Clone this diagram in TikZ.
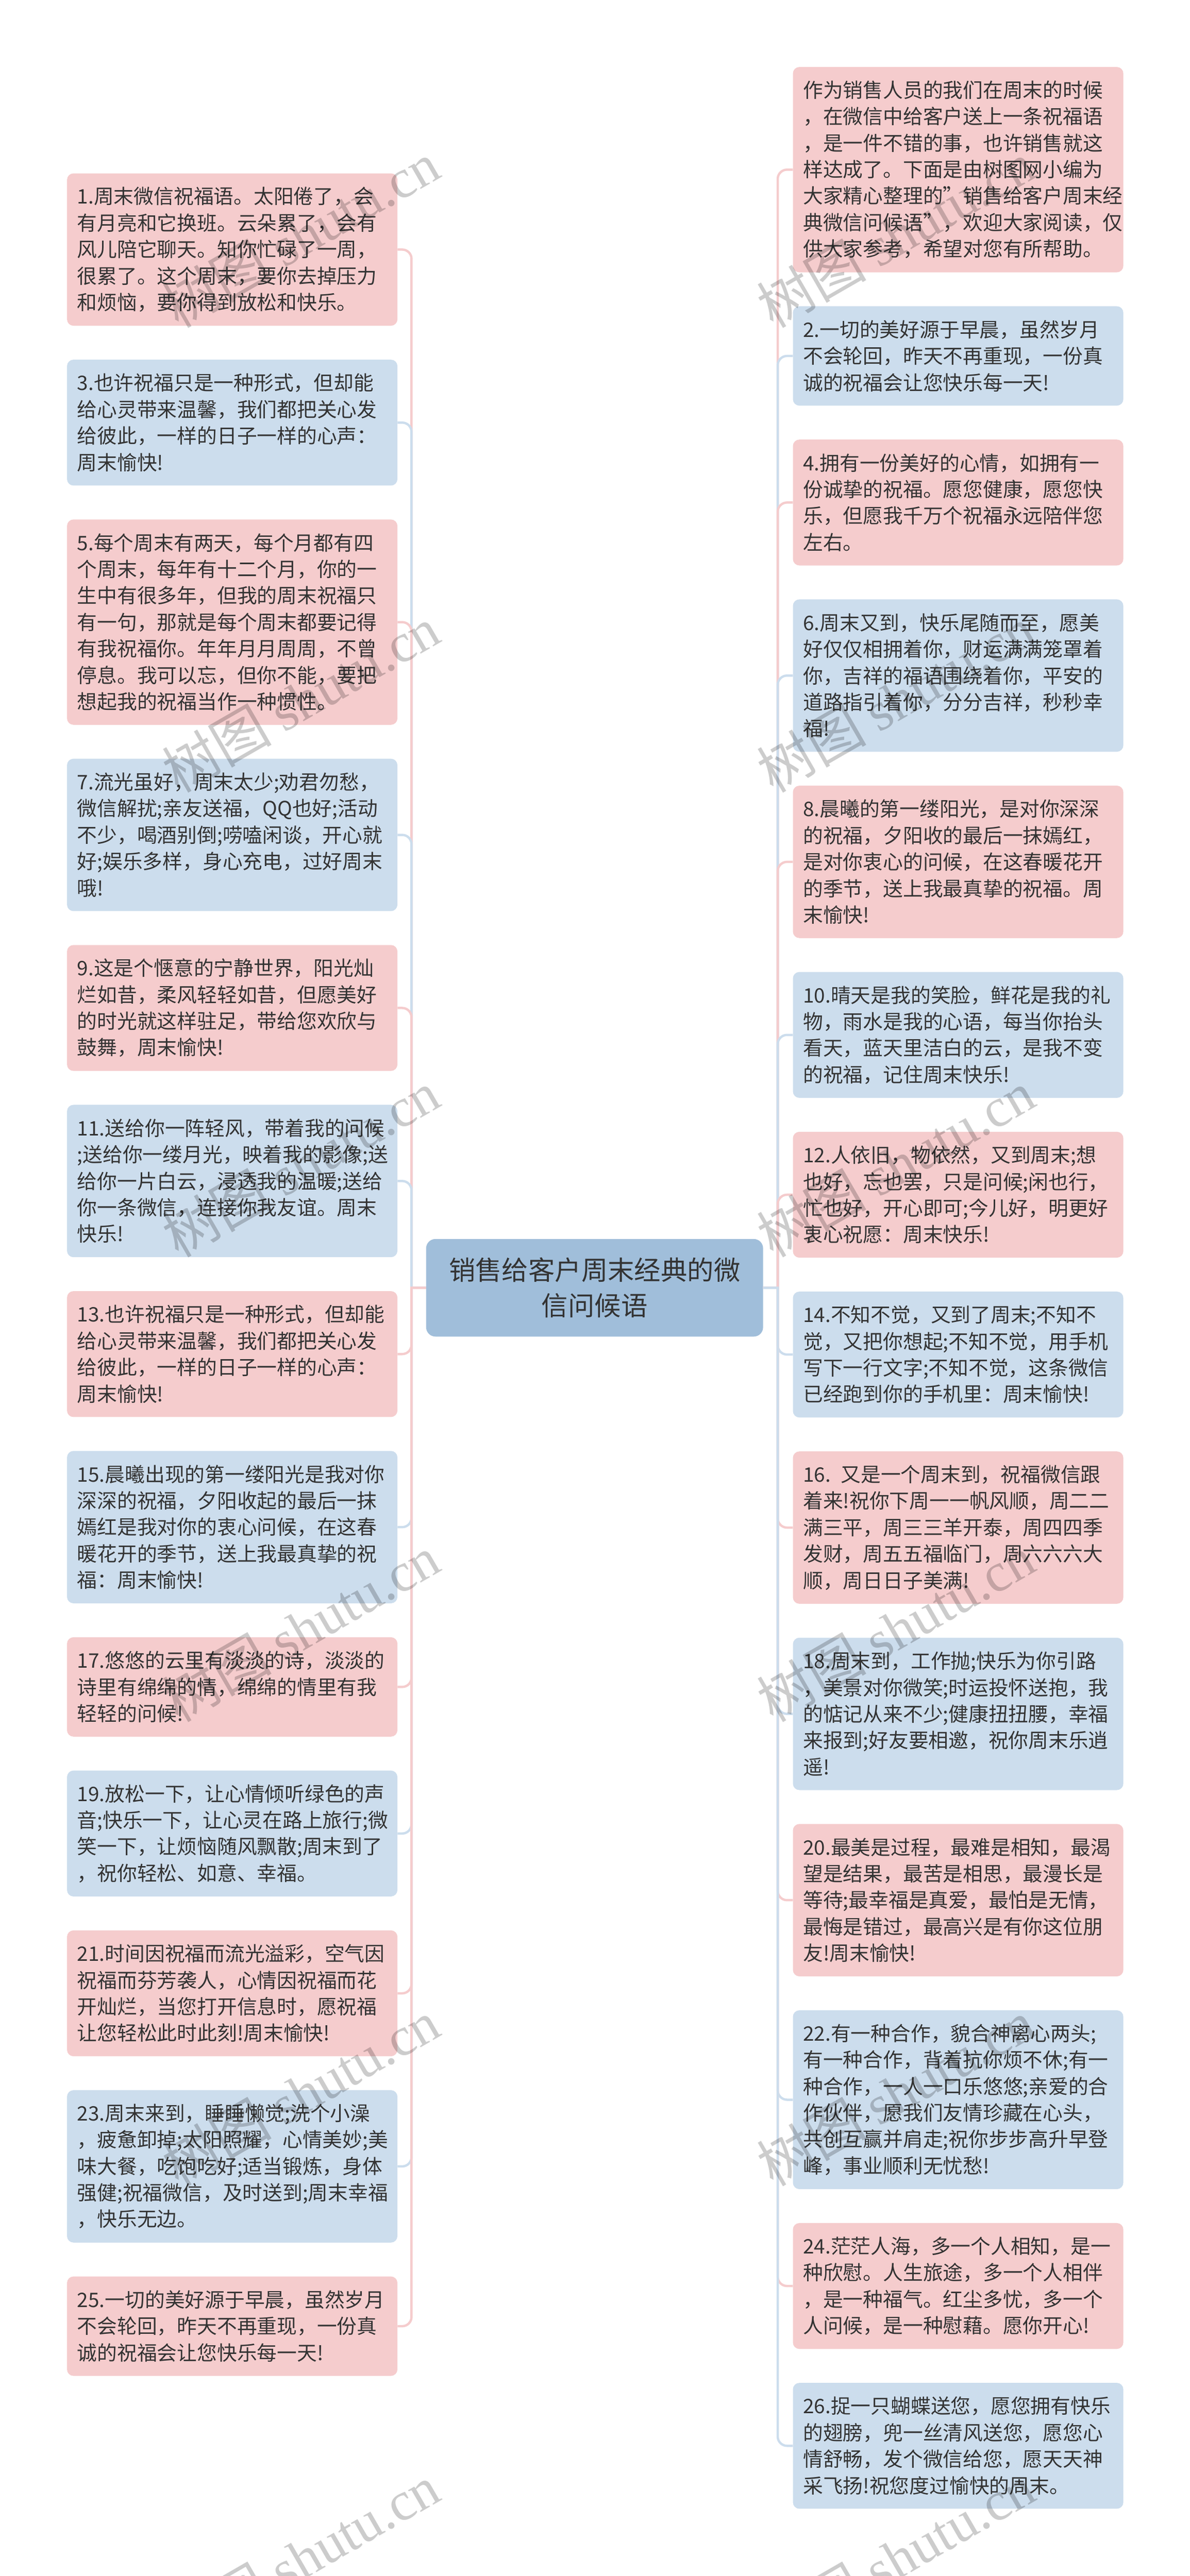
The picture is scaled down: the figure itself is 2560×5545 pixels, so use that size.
\documentclass[tikz,border=0pt]{standalone}
\usepackage{fontspec}
\setmainfont{Noto Sans CJK SC}
\newfontfamily\wmlat{Liberation Serif}
\newfontfamily\wmcjk{Noto Sans CJK SC}
\definecolor{pk}{HTML}{F5CCCD}
\definecolor{bl}{HTML}{CCDDED}
\definecolor{rt}{HTML}{A0BEDA}
\definecolor{ink}{HTML}{333333}
\usetikzlibrary{calc}
\tikzset{
  leaf/.style={anchor=north west,rounded corners=14pt,text width=667pt,inner xsep=22pt,inner ysep=0pt,align=left,text=ink,
    font=\fontsize{43pt}{57pt}\selectfont},
  lp/.style={leaf,fill=pk},
  lb/.style={leaf,fill=bl},
  n3/.style={minimum height=214pt},
  n4/.style={minimum height=271pt},
  n5/.style={minimum height=328pt},
  n6/.style={minimum height=385pt},
  n7/.style={minimum height=442pt},
  rootbox/.style={rounded corners=20pt,fill=rt,text=ink,minimum width=725pt,minimum height=210pt,text width=660pt,align=center,inner sep=0pt,
    font=\fontsize{57pt}{76pt}\selectfont},
  conn/.style={line width=5pt},
  wm/.style={rotate=30,text=black,text opacity=0.2,inner sep=0pt,font=\fontsize{118pt}{118pt}\selectfont}
}
\begin{document}
\begin{tikzpicture}[x=1pt,y=-1pt]
\fill[white] (0,0) rectangle (2560,5545);
\useasboundingbox (0,0) rectangle (2560,5545);
\node[rootbox] (root) at (1279.5,2772) {销售给客户周末经典的微\\信问候语};
\coordinate (lbus) at (885.5,2772);
\coordinate (rbus) at (1673.5,2772);
% left column
\node[lp,n5] (L1) at (144,373) {1.周末微信祝福语。太阳倦了，会\\有月亮和它换班。云朵累了，会有\\风儿陪它聊天。知你忙碌了一周，\\很累了。这个周末，要你去掉压力\\和烦恼，要你得到放松和快乐。};
\node[lb,n4] (L3) at (144,774) {3.也许祝福只是一种形式，但却能\\给心灵带来温馨，我们都把关心发\\给彼此，一样的日子一样的心声：\\周末愉快!};
\node[lp,n7] (L5) at (144,1118) {5.每个周末有两天，每个月都有四\\个周末，每年有十二个月，你的一\\生中有很多年，但我的周末祝福只\\有一句，那就是每个周末都要记得\\有我祝福你。年年月月周周，不曾\\停息。我可以忘，但你不能，要把\\想起我的祝福当作一种惯性。};
\node[lb,n5] (L7) at (144,1633) {7.流光虽好，周末太少;劝君勿愁，\\微信解扰;亲友送福，QQ也好;活动\\不少，喝酒别倒;唠嗑闲谈，开心就\\好;娱乐多样，身心充电，过好周末\\哦!};
\node[lp,n4] (L9) at (144,2034) {9.这是个惬意的宁静世界，阳光灿\\烂如昔，柔风轻轻如昔，但愿美好\\的时光就这样驻足，带给您欢欣与\\鼓舞，周末愉快!};
\node[lb,n5] (L11) at (144,2378) {11.送给你一阵轻风，带着我的问候\\;送给你一缕月光，映着我的影像;送\\给你一片白云，浸透我的温暖;送给\\你一条微信，连接你我友谊。周末\\快乐!};
\node[lp,n4] (L13) at (144,2779) {13.也许祝福只是一种形式，但却能\\给心灵带来温馨，我们都把关心发\\给彼此，一样的日子一样的心声：\\周末愉快!};
\node[lb,n5] (L15) at (144,3123) {15.晨曦出现的第一缕阳光是我对你\\深深的祝福，夕阳收起的最后一抹\\嫣红是我对你的衷心问候，在这春\\暖花开的季节，送上我最真挚的祝\\福：周末愉快!};
\node[lp,n3] (L17) at (144,3524) {17.悠悠的云里有淡淡的诗，淡淡的\\诗里有绵绵的情，绵绵的情里有我\\轻轻的问候!};
\node[lb,n4] (L19) at (144,3811) {19.放松一下，让心情倾听绿色的声\\音;快乐一下，让心灵在路上旅行;微\\笑一下，让烦恼随风飘散;周末到了\\，祝你轻松、如意、幸福。};
\node[lp,n4] (L21) at (144,4155) {21.时间因祝福而流光溢彩，空气因\\祝福而芬芳袭人，心情因祝福而花\\开灿烂，当您打开信息时，愿祝福\\让您轻松此时此刻!周末愉快!};
\node[lb,n5] (L23) at (144,4499) {23.周末来到，睡睡懒觉;洗个小澡\\，疲惫卸掉;太阳照耀，心情美妙;美\\味大餐，吃饱吃好;适当锻炼，身体\\强健;祝福微信，及时送到;周末幸福\\，快乐无边。};
\node[lp,n3] (L25) at (144,4900) {25.一切的美好源于早晨，虽然岁月\\不会轮回，昨天不再重现，一份真\\诚的祝福会让您快乐每一天!};
% right column
\node[lp,n7] (R0) at (1706,144) {作为销售人员的我们在周末的时候\\，在微信中给客户送上一条祝福语\\，是一件不错的事，也许销售就这\\样达成了。下面是由树图网小编为\\大家精心整理的"销售给客户周末经\\典微信问候语"，欢迎大家阅读，仅\\供大家参考，希望对您有所帮助。};
\node[lb,n3] (R2) at (1706,659) {2.一切的美好源于早晨，虽然岁月\\不会轮回，昨天不再重现，一份真\\诚的祝福会让您快乐每一天!};
\node[lp,n4] (R4) at (1706,946) {4.拥有一份美好的心情，如拥有一\\份诚挚的祝福。愿您健康，愿您快\\乐，但愿我千万个祝福永远陪伴您\\左右。};
\node[lb,n5] (R6) at (1706,1290) {6.周末又到，快乐尾随而至，愿美\\好仅仅相拥着你，财运满满笼罩着\\你，吉祥的福语围绕着你，平安的\\道路指引着你，分分吉祥，秒秒幸\\福!};
\node[lp,n5] (R8) at (1706,1691) {8.晨曦的第一缕阳光，是对你深深\\的祝福，夕阳收的最后一抹嫣红，\\是对你衷心的问候，在这春暖花开\\的季节，送上我最真挚的祝福。周\\末愉快!};
\node[lb,n4] (R10) at (1706,2092) {10.晴天是我的笑脸，鲜花是我的礼\\物，雨水是我的心语，每当你抬头\\看天，蓝天里洁白的云，是我不变\\的祝福，记住周末快乐!};
\node[lp,n4] (R12) at (1706,2436) {12.人依旧，物依然，又到周末;想\\也好，忘也罢，只是问候;闲也行，\\忙也好，开心即可;今儿好，明更好\\衷心祝愿：周末快乐!};
\node[lb,n4] (R14) at (1706,2780) {14.不知不觉，又到了周末;不知不\\觉，又把你想起;不知不觉，用手机\\写下一行文字;不知不觉，这条微信\\已经跑到你的手机里：周末愉快!};
\node[lp,n5] (R16) at (1706,3124) {16. 又是一个周末到，祝福微信跟\\着来!祝你下周一一帆风顺，周二二\\满三平，周三三羊开泰，周四四季\\发财，周五五福临门，周六六六大\\顺，周日日子美满!};
\node[lb,n5] (R18) at (1706,3525) {18.周末到，工作抛;快乐为你引路\\，美景对你微笑;时运投怀送抱，我\\的惦记从来不少;健康扭扭腰，幸福\\来报到;好友要相邀，祝你周末乐逍\\遥!};
\node[lp,n5] (R20) at (1706,3926) {20.最美是过程，最难是相知，最渴\\望是结果，最苦是相思，最漫长是\\等待;最幸福是真爱，最怕是无情，\\最悔是错过，最高兴是有你这位朋\\友!周末愉快!};
\node[lb,n6] (R22) at (1706,4327) {22.有一种合作，貌合神离心两头;\\有一种合作，背着抗你烦不休;有一\\种合作，一人一口乐悠悠;亲爱的合\\作伙伴，愿我们友情珍藏在心头，\\共创互赢并肩走;祝你步步高升早登\\峰，事业顺利无忧愁!};
\node[lp,n4] (R24) at (1706,4785) {24.茫茫人海，多一个人相知，是一\\种欣慰。人生旅途，多一个人相伴\\，是一种福气。红尘多忧，多一个\\人问候，是一种慰藉。愿你开心!};
\node[lb,n4] (R26) at (1706,5129) {26.捉一只蝴蝶送您，愿您拥有快乐\\的翅膀，兜一丝清风送您，愿您心\\情舒畅，发个微信给您，愿天天神\\采飞扬!祝您度过愉快的周末。};
% connectors
\foreach \n/\c in {L1/pk,L3/bl,L5/pk,L7/bl,L9/pk,L11/bl,L13/pk,L15/bl,L17/pk,L19/bl,L21/pk,L23/bl,L25/pk}{
  \draw[conn,draw=\c] (root.west) -- (lbus) [rounded corners=20pt] -- (lbus |- \n.east) -- (\n.east);
}
\foreach \n/\c in {R0/pk,R2/bl,R4/pk,R6/bl,R8/pk,R10/bl,R12/pk,R14/bl,R16/pk,R18/bl,R20/pk,R22/bl,R24/pk,R26/bl}{
  \draw[conn,draw=\c] (root.east) -- (rbus) [rounded corners=20pt] -- (rbus |- \n.west) -- (\n.west);
}
% watermarks
\foreach \i/\y in {0/505,1/1505,2/2505,3/3505,4/4505,5/5505}{
  \node[wm] (wl\i) at (647,\y) {{\wmcjk 树图} {\wmlat shutu.cn}};
  \node[wm] (wr\i) at (1927,\y) {{\wmcjk 树图} {\wmlat shutu.cn}};
}
\end{tikzpicture}
\end{document}
